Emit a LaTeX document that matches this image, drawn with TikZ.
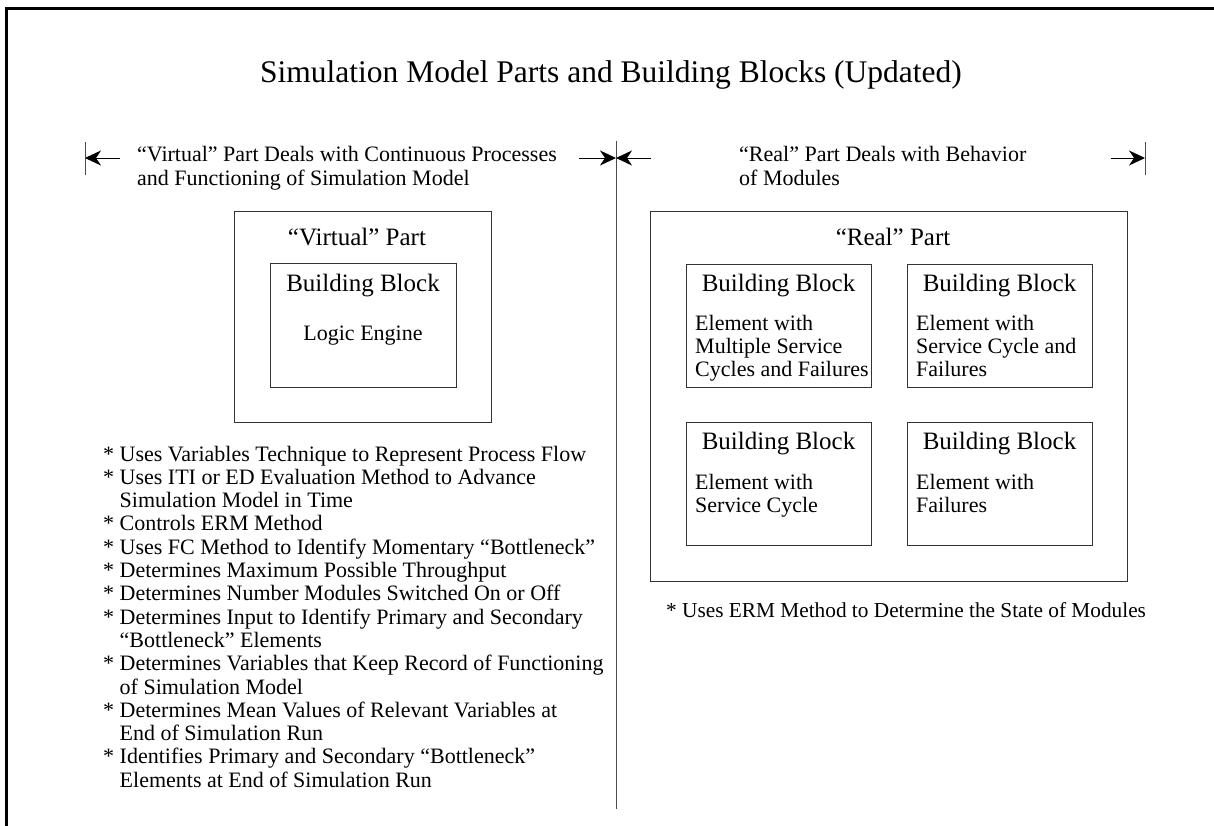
\documentclass[tikz,border=0pt]{standalone}
\usepackage{fontspec}
\setmainfont{Liberation Serif}
\usetikzlibrary{arrows.meta}
\newcommand\FBody{\fontsize{22}{23.3}\selectfont}
\newcommand\FBig{\fontsize{25}{27}\selectfont}
\newcommand\FTitle{\fontsize{31.5}{36}\selectfont}
\newlength\bulw
\newcommand\bitem{\par\hangindent=\bulw\hangafter=1\noindent*\ }
\begin{document}
\begin{tikzpicture}[x=1pt,y=-1pt,
  box/.style={draw=black!80, line width=0.9pt, inner sep=0pt},
  tip/.style={-{Stealth[length=16pt,width=15pt,inset=5pt]}, line width=0.9pt},
  bar/.style={draw=black!70, line width=0.9pt},
  txt/.style={inner sep=0pt, anchor=base, font=\FBody},
  big/.style={inner sep=0pt, anchor=base, font=\FBig},
  para/.style={inner sep=0pt, anchor=base west, font=\FBody}]
\useasboundingbox (0,0) rectangle (1214,826);
% frame
\draw[line width=3pt] (6.5,826) -- (6.5,8.5) -- (1214,8.5);
% title
\node[inner sep=0pt, anchor=base, font=\FTitle] (title) at (611,83) {Simulation Model Parts and Building Blocks (Updated)};
% dimension bars
\coordinate (lb1) at (85,142); \coordinate (lb2) at (85,175);
\coordinate (rb1) at (1145,142); \coordinate (rb2) at (1145,175);
\coordinate (dtop) at (616,141); \coordinate (dbot) at (616,809);
\draw[bar] (lb1) -- (lb2);
\draw[bar] (rb1) -- (rb2);
\draw[bar] (dtop) -- (dbot);
\coordinate (la) at (120,158); \coordinate (lt) at (85,158);
\coordinate (ma) at (579,158); \coordinate (mt) at (616,158);
\coordinate (mb) at (651,158);
\coordinate (ra) at (1111,158); \coordinate (rt) at (1145,158);
\draw[tip] (la) -- (lt);
\draw[tip] (ma) -- (mt);
\draw[tip] (mb) -- (mt);
\draw[tip] (ra) -- (rt);
% headers
\node[para] (vhead) at (137,162) {\parbox[t]{460pt}{“Virtual” Part Deals with Continuous Processes\\and Functioning of Simulation Model}};
\node[para] (rhead) at (739,162) {\parbox[t]{400pt}{“Real” Part Deals with Behavior\\of Modules}};
% virtual part
\node[box, minimum width=257pt, minimum height=211pt] (vout) at (362.5,316.5) {};
\node[big] (vlab) at (357,246) {“Virtual” Part};
\node[box, minimum width=186pt, minimum height=124pt] (vin) at (363,325) {};
\node[big] (vbb) at (363,291) {Building Block};
\node[txt] (vle) at (363,340) {Logic Engine};
% real part
\node[box, minimum width=477pt, minimum height=370pt] (rout) at (888.5,396) {};
\node[big] (rlab) at (893,246) {“Real” Part};
\node[box, minimum width=185pt, minimum height=123pt] (b1) at (778.5,325.5) {};
\node[box, minimum width=185pt, minimum height=123pt] (b2) at (999.5,325.5) {};
\node[box, minimum width=185pt, minimum height=123pt] (b3) at (778.5,483.5) {};
\node[box, minimum width=185pt, minimum height=123pt] (b4) at (999.5,483.5) {};
\node[big] (b1t) at (778.5,291) {Building Block};
\node[big] (b2t) at (999.5,291) {Building Block};
\node[big] (b3t) at (778.5,449) {Building Block};
\node[big] (b4t) at (999.5,449) {Building Block};
\node[para] (b1x) at (695,330) {\parbox[t]{180pt}{Element with\\Multiple Service\\Cycles and Failures}};
\node[para] (b2x) at (916,330) {\parbox[t]{180pt}{Element with\\Service Cycle and\\Failures}};
\node[para] (b3x) at (695,489) {\parbox[t]{180pt}{Element with\\Service Cycle}};
\node[para] (b4x) at (916,489) {\parbox[t]{180pt}{Element with\\Failures}};
% bullets
\node[para] (vlist) at (103,461) {\parbox[t]{540pt}{\settowidth\bulw{*\ }\parindent=0pt\hfuzz=20pt
\bitem Uses Variables Technique to Represent Process Flow
\bitem Uses ITI or ED Evaluation Method to Advance\\Simulation Model in Time
\bitem Controls ERM Method
\bitem Uses FC Method to Identify Momentary “Bottleneck”
\bitem Determines Maximum Possible Throughput
\bitem Determines Number Modules Switched On or Off
\bitem Determines Input to Identify Primary and Secondary\\“Bottleneck” Elements
\bitem Determines Variables that Keep Record of Functioning\\of Simulation Model
\bitem Determines Mean Values of Relevant Variables at\\End of Simulation Run
\bitem Identifies Primary and Secondary “Bottleneck”\\Elements at End of Simulation Run}};
\node[para, font=\fontsize{21.3}{23}\selectfont] (rlist) at (666,617) {* Uses ERM Method to Determine the State of Modules};
\end{tikzpicture}
\end{document}
